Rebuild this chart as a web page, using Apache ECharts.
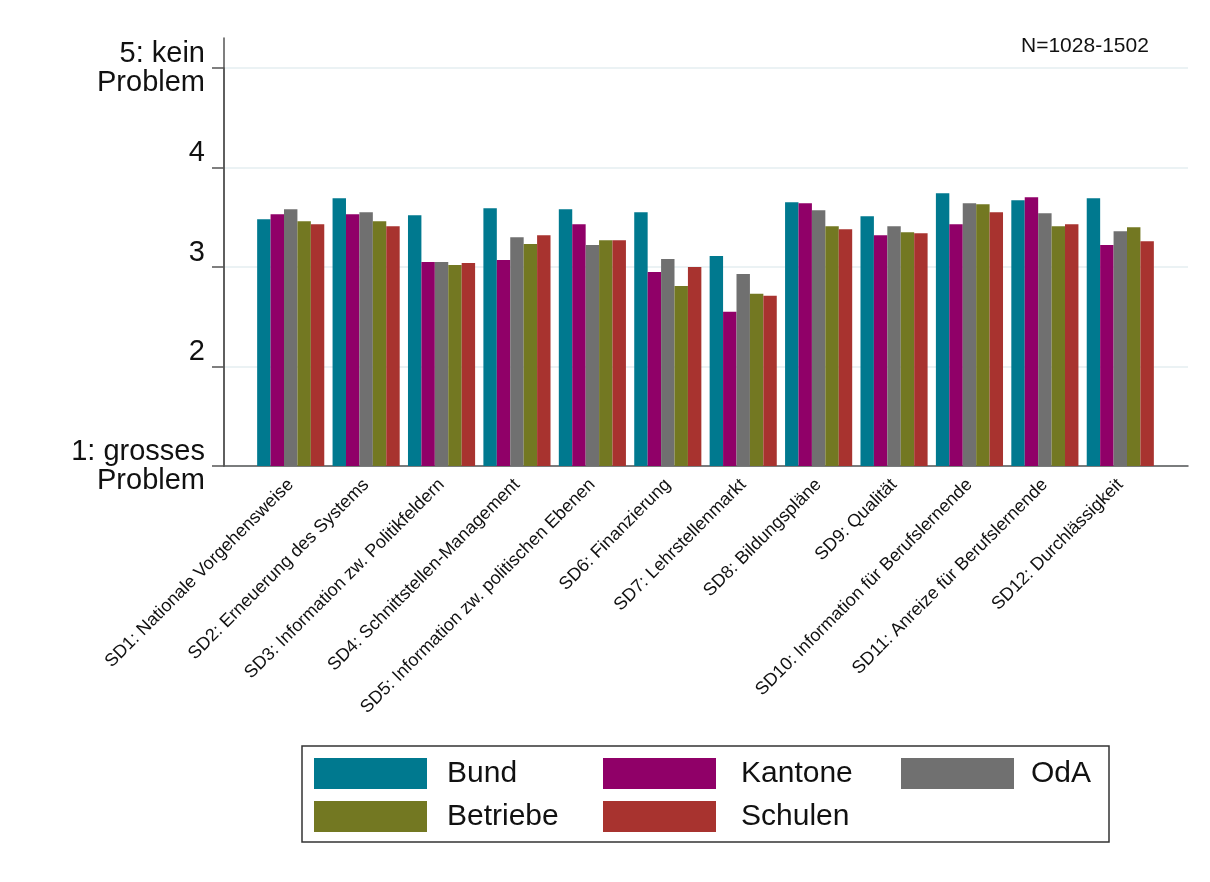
<!DOCTYPE html>
<html>
<head>
<meta charset="utf-8">
<script src="https://cdn.jsdelivr.net/npm/echarts@6/dist/echarts.min.js"></script>
<style>
html,body{margin:0;padding:0;background:#fff;}
#chart{width:1210px;height:882px;}
</style>
</head>
<body>
<div id="chart"></div>
<script>
const categories = [
  'SD1: Nationale Vorgehensweise',
  'SD2: Erneuerung des Systems',
  'SD3: Information zw. Politikfeldern',
  'SD4: Schnittstellen-Management',
  'SD5: Information zw. politischen Ebenen',
  'SD6: Finanzierung',
  'SD7: Lehrstellenmarkt',
  'SD8: Bildungspläne',
  'SD9: Qualität',
  'SD10: Information für Berufslernende',
  'SD11: Anreize für Berufslernende',
  'SD12: Durchlässigkeit'
];
const bund     = [3.48, 3.69, 3.52, 3.59, 3.58, 3.55, 3.11, 3.65, 3.51, 3.74, 3.67, 3.69];
const kantone  = [3.53, 3.53, 3.05, 3.07, 3.43, 2.95, 2.55, 3.64, 3.32, 3.43, 3.70, 3.22];
const oda      = [3.58, 3.55, 3.05, 3.30, 3.22, 3.08, 2.93, 3.57, 3.41, 3.64, 3.54, 3.36];
const betriebe = [3.46, 3.46, 3.02, 3.23, 3.27, 2.81, 2.73, 3.41, 3.35, 3.63, 3.41, 3.40];
const schulen  = [3.43, 3.41, 3.04, 3.32, 3.27, 3.00, 2.71, 3.38, 3.34, 3.55, 3.43, 3.26];
const seriesNames = ['Bund', 'Kantone', 'OdA', 'Betriebe', 'Schulen'];
const yTickValues = [1, 2, 3, 4, 5];
const yTickLabels = ['1: grosses\nProblem', '2\n ', '3\n ', '4\n ', '5: kein\nProblem'];
const noteText = 'N=1028-1502';

const colors = ['#00798f', '#900068', '#707070', '#737822', '#a8332f'];
const seriesData = [bund, kantone, oda, betriebe, schulen];
const FONT = '"Liberation Sans", Arial, sans-serif';

const chart = echarts.init(document.getElementById('chart'), null, {renderer: 'canvas'});

const legendPos = [[314, 758], [603, 758], [901, 758], [314, 801], [603, 801]];
const legendTextGap = [15, 20, 12, 15, 20];

const option = {
  backgroundColor: '#ffffff',
  animation: false,
  textStyle: {fontFamily: FONT},
  grid: [
    {left: 224, right: 22, top: 68, height: 398, containLabel: false},
    {left: 253, right: 52, top: 68, height: 398, containLabel: false},
    {left: 224, right: 22, top: 38, height: 428, containLabel: false}
  ],
  xAxis: [
    {
      gridIndex: 0, type: 'value', min: 0, max: 1,
      axisLine: {show: true, lineStyle: {color: '#555', width: 1.5}},
      axisTick: {show: false}, axisLabel: {show: false}, splitLine: {show: false}
    },
    {
      gridIndex: 1, type: 'category', data: categories,
      axisLine: {show: false}, axisTick: {show: false}, splitLine: {show: false},
      axisLabel: {
        interval: 0, rotate: 45, margin: 16, fontSize: 18, color: '#111', fontFamily: FONT
      }
    },
    {
      gridIndex: 2, type: 'value', min: 0, max: 1, show: false
    }
  ],
  yAxis: [
    {
      gridIndex: 0, type: 'value', min: 1, max: 5, interval: 1,
      axisLine: {show: true, lineStyle: {color: '#555', width: 1.5}},
      axisTick: {show: true, inside: false, length: 12, lineStyle: {color: '#555', width: 1.5}},
      splitLine: {show: true, lineStyle: {color: '#e4eef0', width: 1.5}},
      axisLabel: {
        margin: 19, fontSize: 29, lineHeight: 29, color: '#111', align: 'right', fontFamily: FONT,
        padding: [6, 0, 0, 0],
        formatter: function (v) {
          const i = yTickValues.indexOf(v);
          return i >= 0 ? yTickLabels[i] : '';
        }
      }
    },
    {
      gridIndex: 1, type: 'value', min: 1, max: 5, interval: 1, show: false,
      splitLine: {show: false}
    },
    {
      gridIndex: 2, type: 'value', min: 0, max: 1,
      axisLine: {show: true, lineStyle: {color: '#555', width: 1.5}},
      axisTick: {show: false}, axisLabel: {show: false}, splitLine: {show: false}
    }
  ],
  legend: seriesNames.map(function (name, i) {
    return {
      data: [name],
      left: legendPos[i][0], top: legendPos[i][1],
      padding: 0, itemWidth: 113, itemHeight: 31, icon: 'rect',
      selectedMode: false,
      textStyle: {fontSize: 30, color: '#111', fontFamily: FONT, padding: [0, 0, 0, legendTextGap[i]]}
    };
  }),
  series: seriesNames.map(function (name, i) {
    return {
      name: name, type: 'bar', xAxisIndex: 1, yAxisIndex: 1,
      data: seriesData[i],
      barGap: '0%', barCategoryGap: '11%',
      itemStyle: {color: colors[i]},
      emphasis: {disabled: true}
    };
  }),
  graphic: [
    {
      type: 'rect', z: -1,
      shape: {x: 302, y: 746, width: 807, height: 96},
      style: {fill: '#fff', stroke: '#333', lineWidth: 1.5}
    },
    {
      type: 'text', left: 1021, top: 36,
      style: {text: noteText, fontSize: 21, fill: '#111', fontFamily: FONT}
    }
  ]
};
chart.setOption(option);
</script>
</body>
</html>
